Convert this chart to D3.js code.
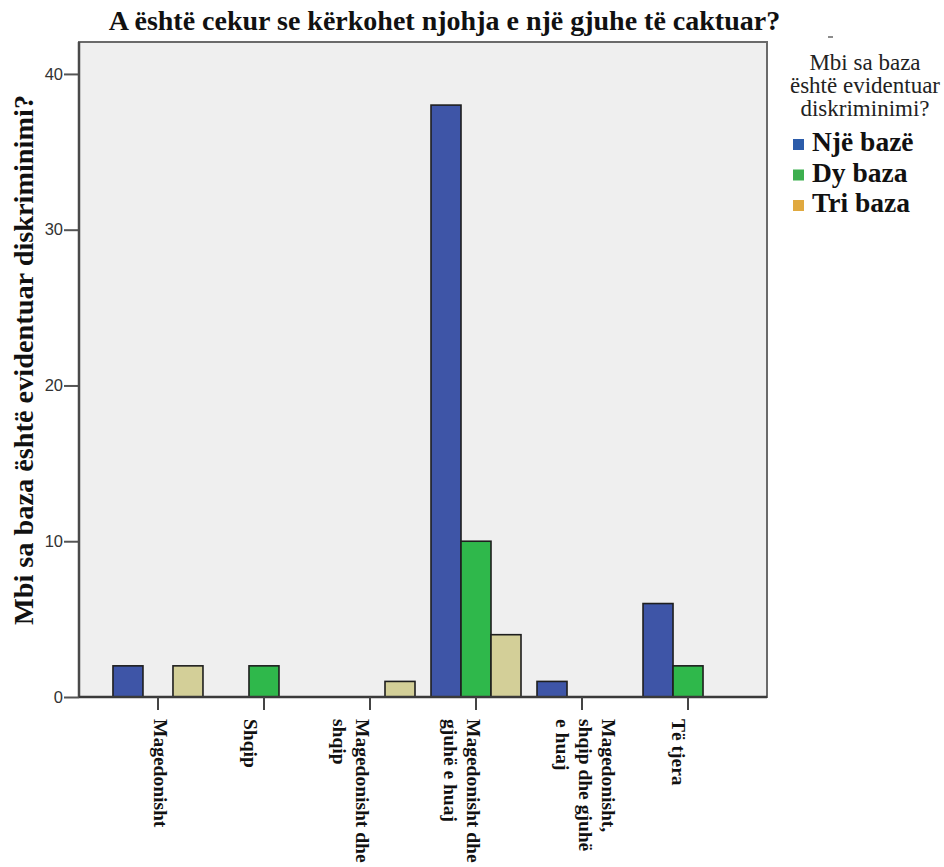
<!DOCTYPE html>
<html>
<head>
<meta charset="utf-8">
<script src="https://cdn.jsdelivr.net/npm/d3@7/dist/d3.min.js"></script>
<style>
  html, body { margin: 0; padding: 0; background: #ffffff; }
  svg { display: block; }
</style>
</head>
<body>
<div id="chart"></div>
<script>
// ---- data ----
const categories = [
  "Magedonisht",
  "Shqip",
  "Magedonisht dhe shqip",
  "Magedonisht dhe gjuhë e huaj",
  "Magedonisht, shqip dhe gjuhë e huaj",
  "Të tjera"
];
const categoryLines = [
  ["Magedonisht"],
  ["Shqip"],
  ["Magedonisht dhe", "shqip"],
  ["Magedonisht dhe", "gjuhë e huaj"],
  ["Magedonisht,", "shqip dhe gjuhë", "e huaj"],
  ["Të tjera"]
];
const seriesNames = ["Një bazë", "Dy baza", "Tri baza"];
const njeBaze = [2, 0, 0, 38, 1, 6];
const dyBaza  = [0, 2, 0, 10, 0, 2];
const triBaza = [2, 0, 1, 4, 0, 0];
const yTicks = [0, 10, 20, 30, 40];

const title = "A është cekur se kërkohet njohja e një gjuhe të caktuar?";
const yTitle = "Mbi sa baza është evidentuar diskriminimi?";
const legendTitle = ["Mbi sa baza", "është evidentuar", "diskriminimi?"];

// ---- layout & style ----
const W = 944, H = 867;
const plot = { left: 79, right: 767, top: 42, bottom: 697 };
const barColors = ["#3e55a7", "#2fb84b", "#d3cf98"];
const legendColors = ["#2c5caa", "#3daf4f", "#e0a93f"];
// horizontal nudge of each category label block relative to its tick
const labelNudge = [-3.5, -19.5, -14, -9.5, 19.5, -16.5];

const seriesValues = [njeBaze, dyBaza, triBaza];

const svg = d3.select("#chart").append("svg")
  .attr("width", W).attr("height", H);

const x0 = d3.scaleBand()
  .domain(categories)
  .range([plot.left, plot.right])
  .paddingInner(0)
  .paddingOuter(0.245);

const x1 = d3.scaleBand()
  .domain(seriesNames)
  .range([x0.bandwidth() / 2 - 45, x0.bandwidth() / 2 + 45]);

const y = d3.scaleLinear()
  .domain([0, 42.05])
  .range([plot.bottom, plot.top]);

// plot background and frame
svg.append("rect")
  .attr("x", plot.left).attr("y", plot.top)
  .attr("width", plot.right - plot.left)
  .attr("height", plot.bottom - plot.top)
  .attr("fill", "#efefef")
  .attr("stroke", "#6a6a6a")
  .attr("stroke-width", 2);

// bars
const rows = [];
categories.forEach((c, i) => {
  seriesNames.forEach((s, j) => {
    const v = seriesValues[j][i];
    if (v > 0) rows.push({ c, s, j, v });
  });
});

svg.append("g").selectAll("rect")
  .data(rows)
  .join("rect")
  .attr("x", d => x0(d.c) + x1(d.s))
  .attr("y", d => y(d.v))
  .attr("width", x1.bandwidth())
  .attr("height", d => y(0) - y(d.v))
  .attr("fill", d => barColors[d.j])
  .attr("stroke", "#1e1e1e")
  .attr("stroke-width", 1.6);

// y axis
const yAxis = svg.append("g")
  .attr("transform", `translate(${plot.left},0)`)
  .call(d3.axisLeft(y).tickValues(yTicks).tickSize(15).tickPadding(1).tickFormat(d3.format("d")));
yAxis.select(".domain").remove();
yAxis.selectAll(".tick line").attr("stroke", "#555").attr("stroke-width", 2);
yAxis.selectAll(".tick text")
  .attr("fill", "#333")
  .style("font-family", "'Liberation Sans', Arial, sans-serif")
  .style("font-size", "16.5px");

// left axis line
svg.append("line")
  .attr("x1", plot.left).attr("x2", plot.left)
  .attr("y1", plot.top).attr("y2", plot.bottom)
  .attr("stroke", "#4a4a4a").attr("stroke-width", 2.5);

// x axis
const xAxis = svg.append("g")
  .attr("transform", `translate(0,${plot.bottom})`)
  .call(d3.axisBottom(x0).tickSize(13).tickFormat(""));
xAxis.select(".domain").attr("stroke", "#3a3a3a").attr("stroke-width", 2.5)
  .attr("d", `M${plot.left},0H${plot.right}`);
xAxis.selectAll(".tick line").attr("stroke", "#444").attr("stroke-width", 2);

// category labels, rotated to read top-to-bottom
const labelG = svg.append("g");
categories.forEach((c, i) => {
  const cx = x0(c) + x0.bandwidth() / 2 + labelNudge[i];
  const t = labelG.append("text")
    .attr("transform", `translate(${cx},719) rotate(90)`)
    .attr("text-anchor", "start")
    .style("font-family", "'Liberation Serif', 'Times New Roman', serif")
    .style("font-weight", "bold")
    .style("font-size", "19.5px")
    .attr("fill", "#111");
  categoryLines[i].forEach((line, k) => {
    t.append("tspan").attr("x", 0).attr("y", k * 23).text(line);
  });
});

// chart title
svg.append("text")
  .attr("x", (107 + 782) / 2).attr("y", 30)
  .attr("text-anchor", "middle")
  .style("font-family", "'Liberation Serif', 'Times New Roman', serif")
  .style("font-weight", "bold")
  .style("font-size", "28px")
  .attr("fill", "#111")
  .text(title);

// y axis title
svg.append("text")
  .attr("transform", `translate(33,360) rotate(-90)`)
  .attr("text-anchor", "middle")
  .style("font-family", "'Liberation Serif', 'Times New Roman', serif")
  .style("font-weight", "bold")
  .style("font-size", "28.3px")
  .attr("fill", "#111")
  .text(yTitle);

// legend
const lg = svg.append("g");
lg.append("line")
  .attr("x1", 828).attr("x2", 833).attr("y1", 37).attr("y2", 37)
  .attr("stroke", "#666").attr("stroke-width", 1.5);
legendTitle.forEach((line, k) => {
  lg.append("text")
    .attr("x", 865).attr("y", 70 + k * 23)
    .attr("text-anchor", "middle")
    .style("font-family", "'Liberation Serif', 'Times New Roman', serif")
    .style("font-size", "23px")
    .attr("fill", "#222")
    .text(line);
});
seriesNames.forEach((s, k) => {
  const by = 151 + k * 30.5;
  lg.append("rect")
    .attr("x", 793).attr("y", by - 12)
    .attr("width", 11).attr("height", 11)
    .attr("fill", legendColors[k]);
  lg.append("text")
    .attr("x", 812).attr("y", by)
    .style("font-family", "'Liberation Serif', 'Times New Roman', serif")
    .style("font-weight", "bold")
    .style("font-size", "27.5px")
    .attr("fill", "#111")
    .text(s);
});
</script>
</body>
</html>
